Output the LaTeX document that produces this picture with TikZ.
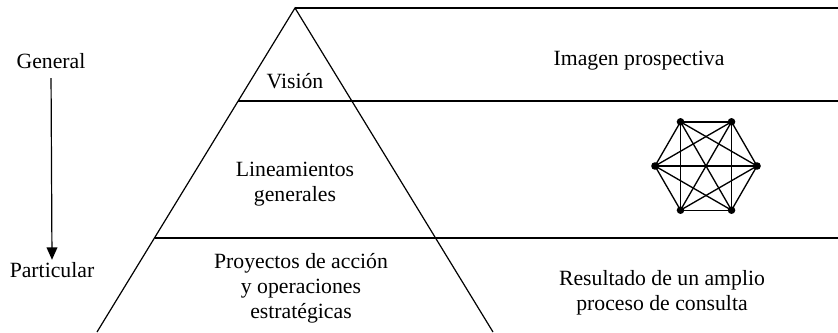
\documentclass[tikz,border=0pt]{standalone}
\usepackage{fontspec}
\setmainfont{Liberation Serif}
\usetikzlibrary{calc}

\tikzset{every picture/.style={line width=0.9pt}}
\tikzset{label text/.style={anchor=center,inner sep=0.75pt,align=center,font=\fontsize{16.3}{18.75}\selectfont}}

\begin{document}
\begin{tikzpicture}[x=0.75pt,y=0.75pt,yscale=-1,xscale=1]
		\useasboundingbox (0,0) rectangle (838,332); %diagram size 838 x 332
		
		%Pyramid
		\draw   (97,332) -- (295,8) -- (493,332) ;
		%Levels
		\draw [line width=1.1pt]  (295,8) -- (838,8) ;
		\draw [line width=1.1pt]  (238,101) -- (838,101) ;
		\draw [line width=1.1pt]  (155,238) -- (838,238) ;
		
		%Texts
		\node [label text] (vision) at (295,81) {Visión};
		\node [label text] (lineamientos) at (295,184) {Lineamientos\\generales};
		\node [label text] (proyectos) at (301,288) {Proyectos de acción\\y operaciones\\estratégicas};
		\node [label text] (imagen) at (639,61) {Imagen prospectiva};
		\node [label text] (resultado) at (662,293) {Resultado de un amplio\\proceso de consulta};
		\node [label text] (general) at (51,61) {General};
		\node [label text] (particular) at (52,270) {Particular};
		
		%Arrow general -> particular
		\draw [shorten <=6pt, shorten >=8pt]   (general.south) -- (particular.north) ;
		\draw [shift={(particular.north)}, shift={(0,-1)}, rotate = 270] [fill={rgb, 255:red, 0; green, 0; blue, 0 }  ][line width=0.08]  [draw opacity=0] (12.5,-5.6) -- (0,0) -- (12.5,5.6) -- cycle    ;
		
		%Hexagon, complete graph
		\coordinate (hex) at (706,166);
		\foreach \i in {0,...,5}
			\coordinate (h\i) at ([shift={(\i*60:51)}]hex);
		\foreach \i [evaluate=\i as \k using int(\i+1)] in {0,...,4}
			\foreach \j in {\k,...,5}
				\draw [line width=1pt]  (h\i) -- (h\j) ;
		\foreach \i in {0,...,5}
			\fill (h\i) circle (3.8);
		
	\end{tikzpicture}
\end{document}
